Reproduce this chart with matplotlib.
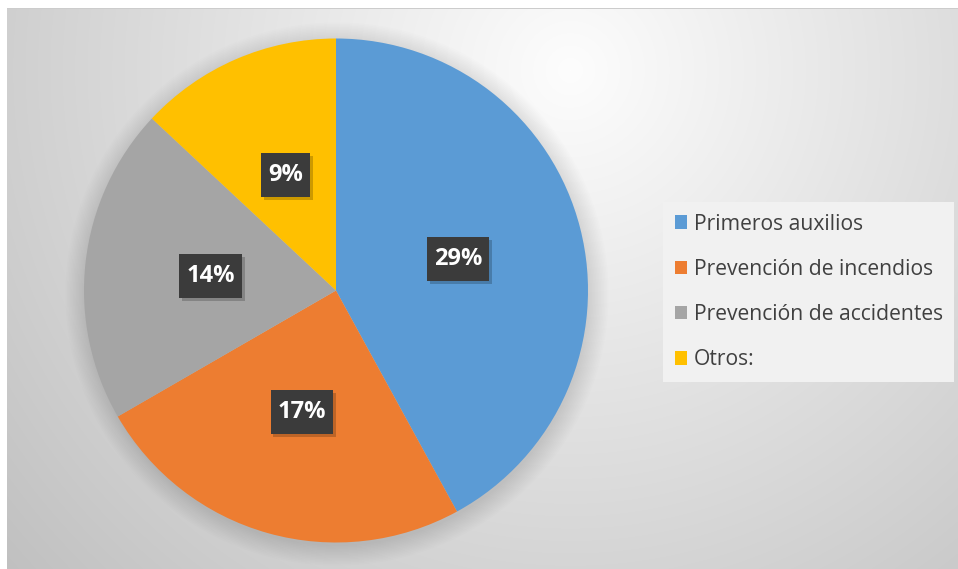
import numpy as np
import matplotlib.pyplot as plt
from matplotlib import patheffects as pe
from matplotlib.patches import Circle

categories = ["Primeros auxilios", "Prevención de incendios", "Prevención de accidentes", "Otros:"]
values = [29, 17, 14, 9]
colors = ["#5B9BD5", "#ED7D31", "#A5A5A5", "#FFC000"]

W, H = 958, 569
fig = plt.figure(figsize=(W / 100, H / 100), dpi=100)
fig.patch.set_facecolor("white")

# background gradient of the chart area
bg = fig.add_axes([0, 0, 1, 1])
bg.set_axis_off()
yy, xx = np.mgrid[0:H, 0:W]
d = np.sqrt(((xx - 570) / 520.0) ** 2 + ((yy - 70) / 520.0) ** 2)
v = np.clip(253 - 42 * d, 190, 253) / 255.0
img = np.dstack([v, v, v])
img[:8, :] = 1
img[:, :7] = 1
img[8, 7:] = 0.8
bg.imshow(img, extent=[0, W, H, 0], aspect="auto", interpolation="bilinear")
bg.set_xlim(0, W)
bg.set_ylim(H, 0)

# pie
cx, cy, r = 336, 290.5, 252
ax = fig.add_axes([(cx - r) / W, (H - cy - r) / H, 2 * r / W, 2 * r / H])
ax.set_axis_off()
for i in range(14):
    ax.add_patch(Circle((0.004, -0.014), 1 + 0.006 * i, color="k", alpha=0.008,
                        zorder=0, clip_on=False, linewidth=0))
total = sum(values)
wedges, texts, autotexts = ax.pie(
    values, colors=colors, startangle=90, counterclock=False, radius=1,
    wedgeprops=dict(linewidth=0),
    autopct=lambda p: f"{p * total / 100:.0f}%", pctdistance=0.5,
    textprops=dict(color="white", fontsize=17, fontweight="bold", family="Open Sans"))
for t in autotexts:
    t.set_bbox(dict(boxstyle="square,pad=0.3", facecolor="#3b3b3b", edgecolor="none",
                    mutation_aspect=1.4))
    t.get_bbox_patch().set_path_effects([pe.SimplePatchShadow(offset=(2, -2), alpha=0.2, shadow_rgbFace="k"), pe.Normal()])
ax.set_xlim(-1, 1)
ax.set_ylim(-1, 1)

leg = fig.legend(wedges, categories, loc="upper left",
                 bbox_to_anchor=(663 / W, 1 - 202 / H),
                 frameon=True, fancybox=False, facecolor="#f1f1f1", edgecolor="none",
                 framealpha=1, handlelength=0.6, handleheight=0.6, handletextpad=0.3,
                 labelspacing=1.15, borderpad=0.55, borderaxespad=0,
                 prop=dict(family="Open Sans", size=15.2), labelcolor="#404040")

fig.savefig("out.png", dpi=100)
